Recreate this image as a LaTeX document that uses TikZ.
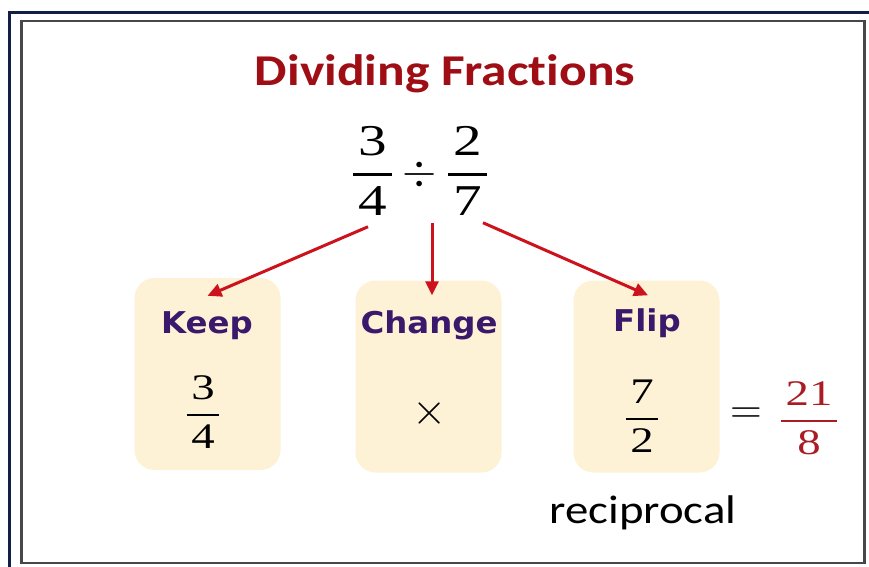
\RequirePackage{fix-cm}
\documentclass[tikz,border=0pt]{standalone}
\usepackage{amsmath}
\usepackage{fontspec}
\setmainfont{Liberation Serif}
\newfontfamily\calibri{Carlito}[Ligatures=NoCommon, FakeStretch=1.17]
\newfontfamily\widesans{DejaVu Sans}[FakeStretch=1.08]
\newfontfamily\digitfont{Liberation Serif}[FakeStretch=1.3]
\usetikzlibrary{arrows.meta}

\definecolor{titlered}{RGB}{158,14,20}
\definecolor{arrowred}{RGB}{204,18,28}
\definecolor{resultred}{RGB}{170,28,36}
\definecolor{steppurple}{RGB}{58,24,108}
\definecolor{boxfill}{RGB}{253,241,214}
\definecolor{navyframe}{RGB}{18,32,72}
\definecolor{grayframe}{RGB}{70,70,75}

\newcommand{\pad}[1]{\mbox{\digitfont\hspace{0.12em}#1\hspace{0.12em}}}
\newcommand{\thickfrac}[2]{\genfrac{}{}{0.055em}{0}{\pad{#1}}{\pad{#2}}}
\newcommand{\frc}[2]{$\thickfrac{#1}{#2}$}

\begin{document}
\begin{tikzpicture}[
    x=1pt, y=-1pt,
    stepbox/.style={rectangle, rounded corners=20pt, fill=boxfill, minimum width=146pt, minimum height=192pt, inner sep=0pt},
    steptitle/.style={font=\widesans\bfseries\fontsize{30}{36}\selectfont, text=steppurple, anchor=base, inner sep=0pt},
    boxmath/.style={font=\fontsize{36}{42}\selectfont, inner sep=0pt},
    symbol/.style={font=\fontsize{44}{50}\selectfont, inner sep=0pt},
    arrow/.style={line width=3pt, draw=arrowred, -{Triangle[length=14pt,width=13pt]}}
]
\useasboundingbox (0,0) rectangle (869,566);
\clip (0,0) rectangle (869,566);

% Frames
\draw[navyframe, line width=3pt] (9.5,12) rectangle (890,590);
\draw[grayframe, line width=2.3pt] (21.5,21) rectangle (864.5,563);

% Nodes
\node[font=\calibri\bfseries\fontsize{44}{52}\selectfont, text=titlered, anchor=base] (title) at (445,85) {Dividing Fractions};

\node[font=\fontsize{44}{52}\selectfont, inner sep=0pt] (question) at (420,171) {$\thickfrac{3}{4}\div\thickfrac{2}{7}$};

\node[stepbox] (keep) at (207.5,374) {};
\node[stepbox] (change) at (428.5,376.5) {};
\node[stepbox] (flip) at (646.5,376.5) {};

\node[steptitle] (keeplbl) at (207,333) {Keep};
\node[steptitle] (changelbl) at (429,333) {Change};
\node[steptitle] (fliplbl) at (647,331) {Flip};

\node[boxmath] (keepfrac) at (203,412) {\frc{3}{4}};
\node[symbol] (times) at (430,413) {$\times$};
\node[boxmath] (flipfrac) at (642,416) {\frc{7}{2}};
\node[symbol] (equals) at (746,416) {$=$};
\node[boxmath, text=resultred] (result) at (809,418) {\frc{21}{8}};

\node[font=\calibri\fontsize{40}{46}\selectfont, anchor=base] (recip) at (643,523) {reciprocal};

\draw[arrow] ([xshift=-52pt,yshift=-11pt]question.south) -- ([yshift=-18pt]keep.north);
\draw[arrow] ([xshift=12pt,yshift=-7pt]question.south) -- ([xshift=3.5pt,yshift=-15pt]change.north);
\draw[arrow] ([xshift=63pt,yshift=-7pt]question.south) -- ([xshift=1.5pt,yshift=-15pt]flip.north);

\end{tikzpicture}
\end{document}
